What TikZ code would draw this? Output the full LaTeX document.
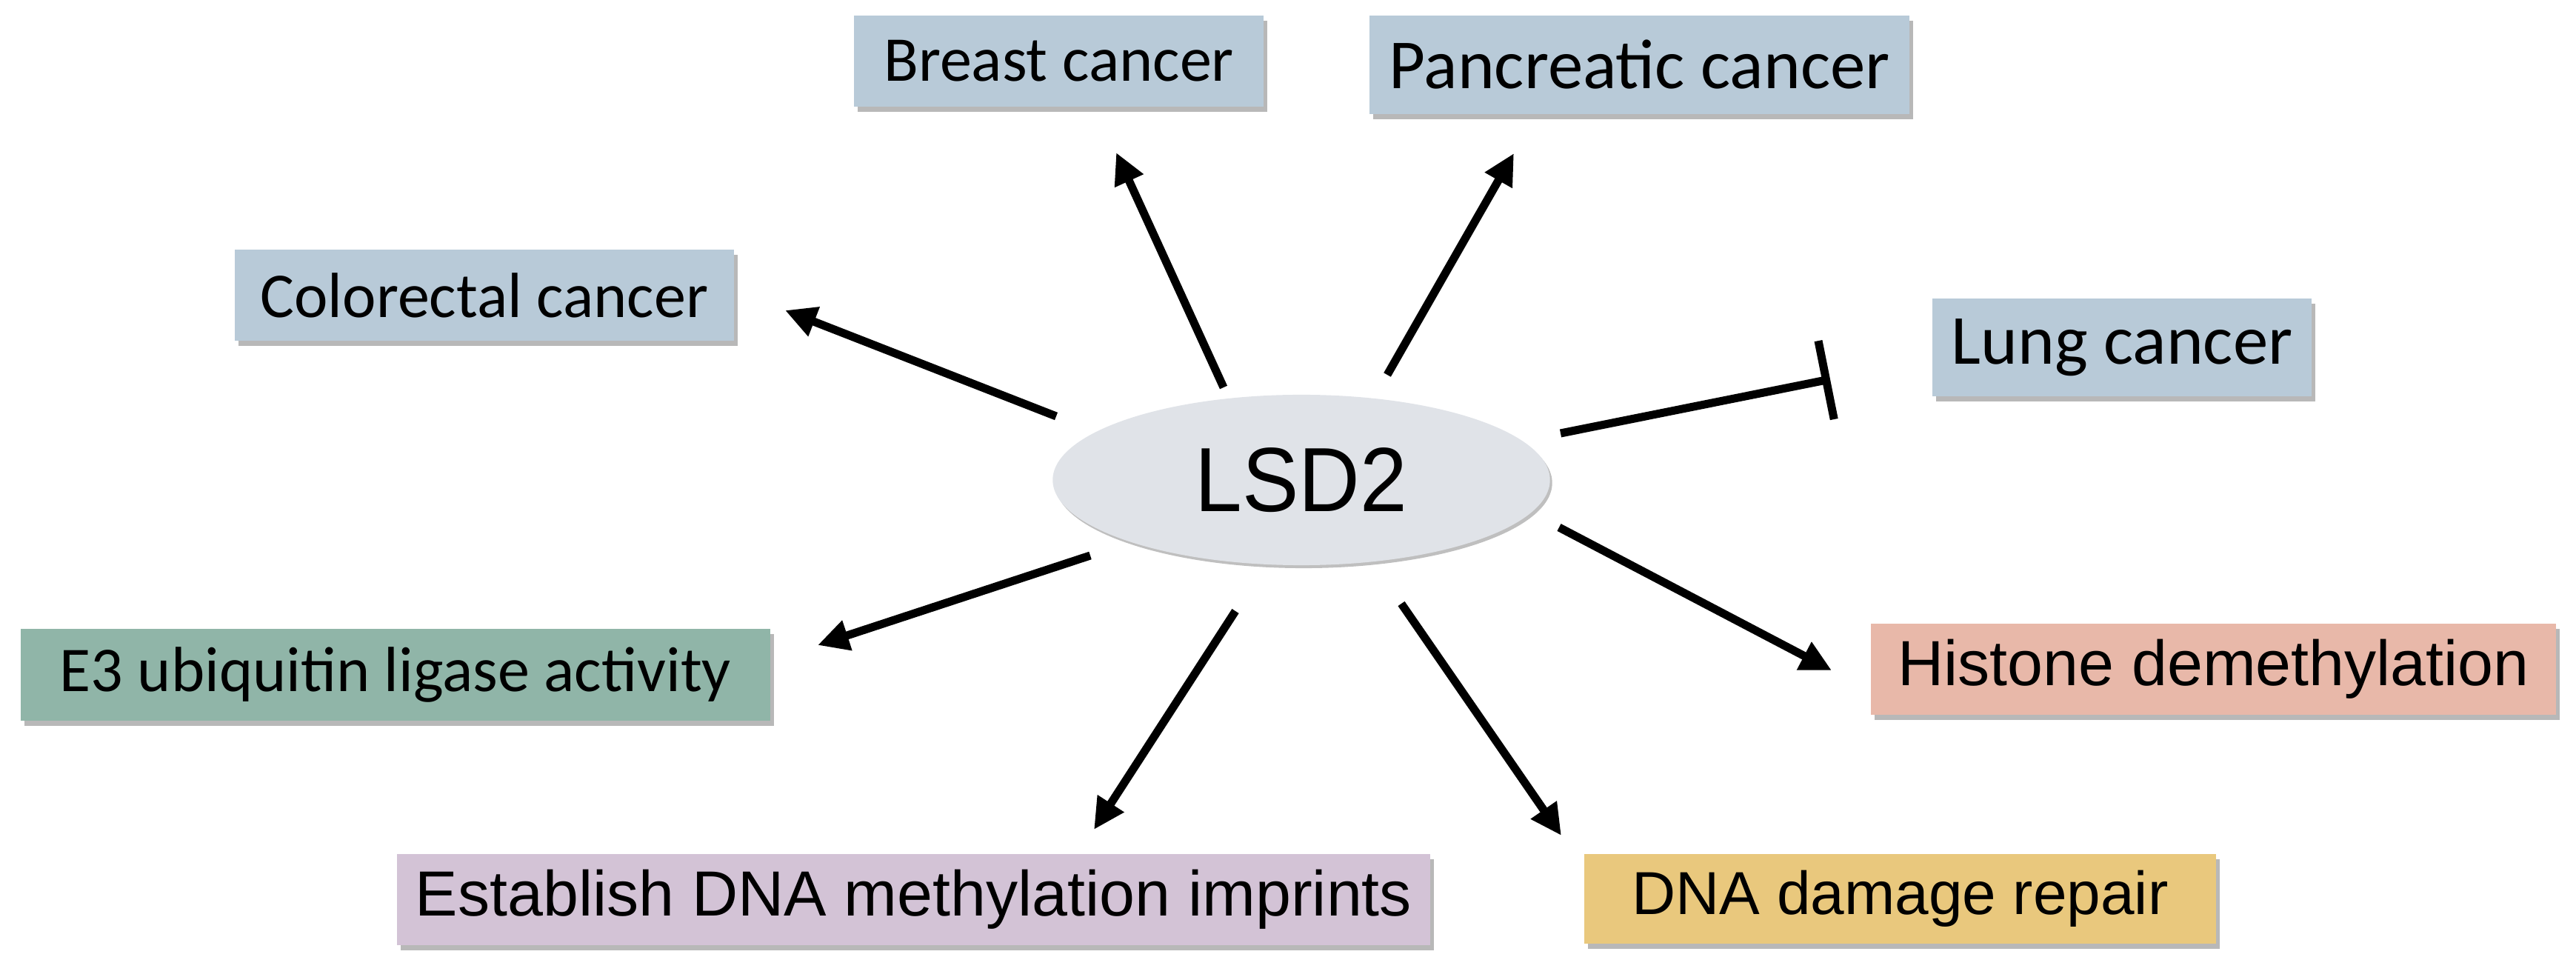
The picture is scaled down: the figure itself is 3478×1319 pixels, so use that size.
\documentclass[tikz,border=0pt]{standalone}
\usepackage{fontspec}
\setmainfont{Carlito}
\newfontfamily\arialf{Liberation Sans}
\newfontfamily\arialnarrow[FakeStretch=0.93]{Liberation Sans}
\usetikzlibrary{arrows.meta,shadows,shapes.geometric}
\definecolor{cancerblue}{HTML}{B8CAD8}
\definecolor{ubgreen}{HTML}{90B5A8}
\definecolor{histpink}{HTML}{E8B8A9}
\definecolor{imprlilac}{HTML}{D3C3D6}
\definecolor{dnayellow}{HTML}{E9C87D}
\definecolor{lsdgray}{HTML}{E0E3E8}
\tikzset{
  boxnode/.style={rectangle, inner sep=0pt, text=black,
    drop shadow={shadow xshift=0.05cm, shadow yshift=-0.07cm, fill=black, opacity=0.28}},
  calfont/.style={font=\fontsize{24.5pt}{28pt}\selectfont},
  calbig/.style={font=\fontsize{27pt}{31pt}\selectfont},
  arfont/.style={font=\arialf\fontsize{24.5pt}{28pt}\selectfont},
  arrowline/.style={line width=0.11cm, -{Triangle[length=0.42cm,width=0.40cm]}},
  inhibline/.style={line width=0.11cm, -{Bar[width=1.08cm]}}
}
\begin{document}
\begin{tikzpicture}[x=0.01cm,y=-0.01cm]
\useasboundingbox (0,0) rectangle (3478,1319);

% central ellipse
\node[ellipse, fill=lsdgray, minimum width=6.71cm, minimum height=2.30cm, inner sep=0pt,
  drop shadow={shadow xshift=0.03cm, shadow yshift=-0.04cm, fill=black, opacity=0.25},
  font=\arialnarrow\fontsize{35pt}{38pt}\selectfont] (lsd) at (1757,648) {LSD2};

% boxes
\node[boxnode, calfont, fill=cancerblue, minimum width=5.53cm, minimum height=1.23cm] (breast) at (1429.5,82.5) {Breast cancer};
\node[boxnode, calbig, fill=cancerblue, minimum width=7.29cm, minimum height=1.33cm] (panc) at (2213.5,87.5) {Pancreatic cancer};
\node[boxnode, calfont, fill=cancerblue, minimum width=6.74cm, minimum height=1.23cm] (colo) at (654,398.5) {Colorectal cancer};
\node[boxnode, calbig, fill=cancerblue, minimum width=5.12cm, minimum height=1.32cm] (lung) at (2865,469) {Lung cancer};
\node[boxnode, calfont, fill=ubgreen, minimum width=10.12cm, minimum height=1.24cm] (ubq) at (534,911) {E3 ubiquitin ligase activity};
\node[boxnode, arfont, fill=histpink, minimum width=9.25cm, minimum height=1.23cm] (hist) at (2988.5,903.5) {Histone demethylation};
\node[boxnode, arfont, fill=imprlilac, minimum width=13.95cm, minimum height=1.23cm] (impr) at (1233.5,1214.5) {Establish DNA methylation imprints};
\node[boxnode, font=\arialf\fontsize{23.3pt}{27pt}\selectfont, fill=dnayellow, minimum width=8.53cm, minimum height=1.21cm] (dna) at (2565.5,1213.5) {DNA damage repair};

% connector end points
\coordinate (sBreast) at (1652,523);  \coordinate (eBreast) at (1507,206);
\coordinate (sPanc) at (1873,506);    \coordinate (ePanc) at (2044,207);
\coordinate (sColo) at (1426,562);    \coordinate (eColo) at (1060,419);
\coordinate (sUbq) at (1472,750);     \coordinate (eUbq) at (1104,871);
\coordinate (sImpr) at (1668,825);    \coordinate (eImpr) at (1477,1120);
\coordinate (sDna) at (1892,815);     \coordinate (eDna) at (2108,1128);
\coordinate (sHist) at (2105,712);    \coordinate (eHist) at (2473,905);
\coordinate (sLung) at (2107,585);    \coordinate (eLung) at (2471,512);

\draw[arrowline] (sBreast) -- (eBreast);
\draw[arrowline] (sPanc) -- (ePanc);
\draw[arrowline] (sColo) -- (eColo);
\draw[arrowline] (sUbq) -- (eUbq);
\draw[arrowline] (sImpr) -- (eImpr);
\draw[arrowline] (sDna) -- (eDna);
\draw[arrowline] (sHist) -- (eHist);
\draw[inhibline] (sLung) -- (eLung);
\end{tikzpicture}
\end{document}
